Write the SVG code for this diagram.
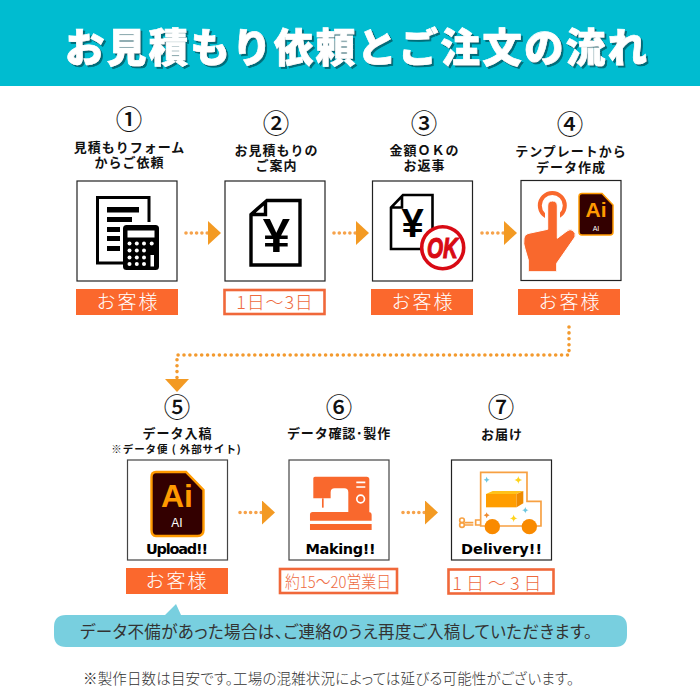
<svg xmlns="http://www.w3.org/2000/svg" width="700" height="700" viewBox="0 0 700 700">
<style>
text{font-family:"Noto Sans CJK JP","Noto Sans",sans-serif}
.lab{font-size:13px;font-weight:700;fill:#111;text-anchor:middle;letter-spacing:1px}
.num{font-size:26.500px;font-weight:500;fill:#111;text-anchor:middle}
.box{fill:#fff;stroke:#222;stroke-width:1.2}
.tag{fill:#fb682d}
.tago{fill:#fff;stroke:#f0683a;stroke-width:2.6}
.tagt{font-size:19px;font-weight:300;fill:#fff;text-anchor:middle;letter-spacing:2px}
.tagd{font-size:18px;font-weight:300;fill:#ee6a3e;text-anchor:middle}
.en{font-family:"DejaVu Sans",sans-serif;font-size:14.500px;font-weight:700;fill:#000}
.yen{font-family:"Liberation Sans",sans-serif;font-weight:700;fill:#000;text-anchor:middle}
.ai{font-family:"Liberation Sans",sans-serif;font-weight:700;fill:#ff9a00;text-anchor:middle}
.ai2{font-family:"Liberation Sans",sans-serif;fill:#fff;text-anchor:middle}
.aidoc{fill:#330000;stroke:#ff9a00}
.dot{fill:none;stroke:#f6a24a;stroke-width:3.6;stroke-linecap:round;stroke-dasharray:0 5.3;marker-end:url(#tri)}
.dot2{fill:none;stroke:#f39a2e;stroke-width:3.6;stroke-linecap:round;stroke-dasharray:0 5.9;marker-end:url(#tri)}
.or{fill:#f9682d}
.van{fill:none;stroke:#f7a041;stroke-width:5}
.palt{font-feature-settings:"palt"}
</style>
<defs>
<marker id="tri" markerUnits="userSpaceOnUse" markerWidth="13" markerHeight="24" refX="0" refY="12" orient="auto"><path d="M0 0L13 12L0 24Z" fill="#f39a23"/></marker>
<filter id="sh" x="-5%" y="-20%" width="110%" height="140%"><feDropShadow dx="2" dy="2" stdDeviation="0.6" flood-color="#00646f" flood-opacity="0.9"/></filter>
<path id="st" d="M0-9Q1 -1 9 0Q1 1 0 9Q-1 1-9 0Q-1-1 0-9Z"/>
</defs>

<g id="header">
<rect x="0" y="0" width="700" height="86" fill="#00bcd0"/>
<text x="356" y="62" font-size="39.500" font-weight="900" fill="#fff" stroke="#fff" stroke-width="0.700" text-anchor="middle" textLength="582" filter="url(#sh)">お見積もり依頼とご注文の流れ</text>
</g>

<g id="connectors">
<path class="dot" d="M186 233H208"/>
<path class="dot" d="M334 233H356"/>
<path class="dot" d="M482 233H504"/>
<path class="dot2" d="M569 327V355H177V379"/>
<path class="dot" d="M240 512.500H262"/>
<path class="dot" d="M403 512.500H425"/>
</g>

<g id="step1">
<text class="num" x="129" y="129">①</text>
<text class="lab"><tspan x="129.500" y="152">見積もりフォーム</tspan><tspan x="129.500" y="167">からご依頼</tspan></text>
<rect class="box" x="77" y="181" width="100" height="100"/>
<path d="M149 222V197.500H97.500V263H124" fill="none" stroke="#000" stroke-width="3"/>
<path d="M107 207h32v5.500h-32zM107 217h25v5h-25zM107 227h13v5h-13zM107 236h13v5h-13zM107 246h13v5h-13z"/>
<rect x="123" y="225" width="36" height="45" rx="3.500"/>
<g fill="#fff">
<rect x="127.500" y="230.500" width="27" height="7"/>
<circle cx="129.500" cy="243.500" r="2"/><circle cx="136.800" cy="243.500" r="2"/><circle cx="144" cy="243.500" r="2"/><circle cx="151.700" cy="243.500" r="2"/>
<circle cx="129.500" cy="250.500" r="2"/><circle cx="136.800" cy="250.500" r="2"/><circle cx="144" cy="250.500" r="2"/>
<circle cx="129.500" cy="257.500" r="2"/><circle cx="136.800" cy="257.500" r="2"/><circle cx="144" cy="257.500" r="2"/>
<circle cx="129.500" cy="264" r="2"/><circle cx="136.800" cy="264" r="2"/><circle cx="144" cy="264" r="2"/>
<rect x="150.500" y="255" width="3.500" height="11.500"/>
</g>
<rect class="tag" x="76" y="289" width="102" height="26"/>
<text class="tagt" x="128" y="309">お客様</text>
</g>

<g id="step2">
<text class="num" x="276" y="133">②</text>
<text class="lab"><tspan x="276.500" y="155">お見積もりの</tspan><tspan x="276.500" y="170">ご案内</tspan></text>
<rect class="box" x="225" y="181" width="100" height="100"/>
<path d="M267 200.500H300V265H251V214.500ZM265.500 201V214.500H251" fill="none" stroke="#000" stroke-width="3.400"/>
<text class="yen" x="276.500" y="252" font-size="49">¥</text>
<rect class="tago" x="224.500" y="290" width="100" height="24"/>
<text class="tagd" x="275" y="309" letter-spacing="0.800">1日～3日</text>
</g>

<g id="step3">
<text class="num" x="424" y="133">③</text>
<text class="lab"><tspan x="424.500" y="155">金額ＯＫの</tspan><tspan x="424.500" y="170">お返事</tspan></text>
<rect class="box" x="372.500" y="181" width="100" height="100"/>
<path d="M403 195H432.500V249H391V207.500ZM402 195.500V207.500H391" fill="none" stroke="#000" stroke-width="2.600"/>
<text class="yen" x="412.500" y="237" font-size="40">¥</text>
<circle cx="442.700" cy="247.700" r="21" fill="#fff" stroke="#d80a14" stroke-width="3.600"/>
<text x="442.500" y="258" font-size="30" font-weight="700" font-style="italic" fill="#d80a14" stroke="#d80a14" stroke-width="1.200" text-anchor="middle" textLength="31" lengthAdjust="spacingAndGlyphs" style="font-family:'Liberation Sans',sans-serif">OK</text>
<rect class="tag" x="371" y="289" width="102" height="26"/>
<text class="tagt" x="423" y="309">お客様</text>
</g>

<g id="step4">
<text class="num" x="570" y="134">④</text>
<text class="lab"><tspan x="571" y="156">テンプレートから</tspan><tspan x="571" y="172">データ作成</tspan></text>
<rect class="box" x="521" y="180.500" width="100" height="100"/>
<circle cx="552.300" cy="205.500" r="12.500" fill="none" stroke="#f9682d" stroke-width="4"/>
<path d="M545 205h15v20h-15z" fill="#fff"/>
<path class="or" stroke="#fff" stroke-width="1" d="M528.300 271.700H556.700V263.300L575 237Q576 233 573 230.500Q570 228.500 567 231L557.300 238.300V206Q557.300 201 552.500 201Q547.700 201 547.700 206V229.300L528 233.500Q524.500 234.500 524 238Q523 244 525 249L528.300 260Z"/>
<path class="aidoc" stroke-width="1.500" d="M582 193.500H602L613 205V232Q613 235 610 235H582Q579 235 579 232V196.500Q579 193.500 582 193.500Z"/>
<text class="ai" x="596" y="216.500" font-size="21">Ai</text>
<text class="ai2" x="596" y="230.500" font-size="7">AI</text>
<rect class="tag" x="518" y="289" width="102" height="26"/>
<text class="tagt" x="570" y="309">お客様</text>
</g>

<g id="step5">
<text class="num" x="177" y="417">⑤</text>
<text class="lab"><tspan x="177.500" y="438">データ入稿</tspan><tspan x="176.500" y="453" font-size="10.500" letter-spacing="0.900">※データ便 ( 外部サイト)</tspan></text>
<rect class="box" x="127.500" y="460" width="100" height="100" style="stroke:#444"/>
<path class="aidoc" stroke-width="2.400" d="M156 472H186L203.500 490V530Q203.500 536 197.500 536H156Q151.500 536 151.500 530V477Q151.500 472 156 472Z"/>
<text class="ai" x="177" y="506.500" font-size="32">Ai</text>
<text class="ai2" x="177" y="527" font-size="12">AI</text>
<text class="en" x="146" y="554" textLength="62">Upload!!</text>
<rect class="tag" x="126" y="568" width="102" height="26"/>
<text class="tagt" x="177" y="588">お客様</text>
</g>

<g id="step6">
<text class="num" x="339" y="417">⑥</text>
<text class="lab" x="339" y="438" style="letter-spacing:.8px">データ確認･製作</text>
<rect class="box" x="289" y="460" width="100" height="100" style="stroke:#444"/>
<g transform="translate(100 390) scale(.3333)">
<path class="or" d="M640 265Q640 260 645 260H800Q808 260 808 268V366H745V307Q745 295 733 295H704Q692 295 692 307V325H640Z"/>
<rect class="or" x="666" y="325" width="5" height="28"/>
<path class="or" d="M638 366H806Q815 366 815 375V392H630V374Q630 366 638 366Z"/>
<rect class="or" x="630" y="402" width="185" height="18"/>
<path d="M769 277H796M769 291H796" stroke="#fff" stroke-width="5"/>
<circle cx="782" cy="327" r="11.500" fill="none" stroke="#fff" stroke-width="5"/>
</g>
<text class="en" x="305.500" y="554" textLength="70">Making!!</text>
<rect class="tago" x="280" y="569" width="117" height="24"/>
<text x="338" y="588" font-size="16.500" font-weight="300" fill="#ee6a3e" text-anchor="middle" textLength="106" lengthAdjust="spacingAndGlyphs">約15～20営業日</text>
</g>

<g id="step7">
<text class="num" x="501" y="417">⑦</text>
<text class="lab" x="502" y="439">お届け</text>
<rect class="box" x="451.500" y="460" width="100" height="100"/>
<g transform="translate(390 390) scale(.3333)">
<path class="van" d="M272 408V247H411V334H453V408Z"/>
<path class="van" d="M272 390H257V405H272"/>
<path d="M250 398H224M250 405H224" fill="none" stroke="#f7a041" stroke-width="5"/>
<circle cx="216" cy="391" r="7" fill="none" stroke="#f7a041" stroke-width="5"/>
<circle cx="216" cy="405" r="7" fill="none" stroke="#f7a041" stroke-width="5"/>
<circle cx="307" cy="410" r="23" fill="#f98a00"/>
<circle cx="418" cy="410" r="23" fill="#f98a00"/>
<path d="M288 312H380V352H288Z" fill="#ff9d00"/>
<path d="M288 312L308 303H400L380 312Z" fill="#ffc21a"/>
<path d="M380 312L400 303V340L380 352Z" fill="#ee8a00"/>
<use href="#st" x="290" y="269" fill="#6cc6e0"/>
<use href="#st" transform="translate(385 270) scale(1.300)" fill="#ffd31a"/>
<use href="#st" x="290" y="376" fill="#ef8a2e"/>
<use href="#st" transform="translate(371 385) scale(1.300)" fill="#ffd31a"/>
<use href="#st" transform="translate(406 361) scale(1.100)" fill="#6cc6e0"/>
</g>
<text class="en" x="461" y="554" textLength="81">Delivery!!</text>
<rect class="tago" x="448.500" y="569.500" width="105" height="24"/>
<text class="tagd" x="499" y="590" letter-spacing="4">1日～3日</text>
</g>

<g id="callout">
<path d="M54 627Q54 615 66 615H165L176 604L181 615H615Q627 615 627 627V635Q627 647 615 647H66Q54 647 54 635Z" fill="#78cfdf"/>
<text class="palt" x="80" y="638" font-size="16.500" fill="#333" textLength="512">データ不備があった場合は、ご連絡のうえ再度ご入稿していただきます。</text>
</g>

<g id="note">
<text class="palt" x="83" y="684" font-size="14.500" font-weight="300" fill="#333" textLength="491">※製作日数は目安です。工場の混雑状況によっては延びる可能性がございます。</text>
</g>
</svg>
